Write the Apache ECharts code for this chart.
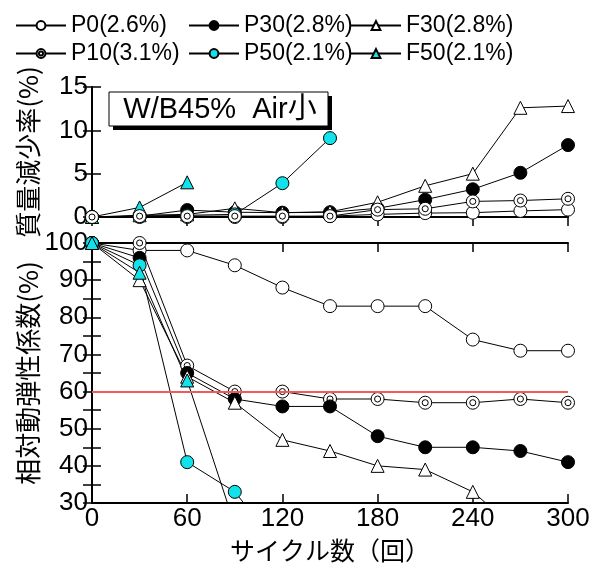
<!DOCTYPE html>
<html>
<head>
<meta charset="utf-8">
<script src="https://cdn.jsdelivr.net/npm/echarts@6/dist/echarts.min.js"></script>
<style>
  html, body { margin: 0; padding: 0; background: #fff; }
  #chart { width: 596px; height: 563px; }
</style>
</head>
<body>
<div id="chart"></div>
<script>
// サイクル数
var cycles = [0, 30, 60, 90, 120, 150, 180, 210, 240, 270, 300];

var names = ['P0(2.6%)', 'P10(3.1%)', 'P30(2.8%)', 'F30(2.8%)', 'P50(2.1%)', 'F50(2.1%)'];

// 質量減少率(%)
var massP0  = [0, 0, 0, 0, 0, 0.1, 0.3, 0.45, 0.5, 0.7, 0.85];
var massP10 = [0, 0.1, 0.1, 0.1, 0.1, 0.1, 0.85, 0.95, 1.8, 1.9, 2.1];
var massP30 = [0, 0.1, 0.8, 0.55, 0.5, 0.55, 1.0, 2.0, 3.2, 5.1, 8.3];
var massF30 = [0, 0.2, 0.3, 1.0, 0.5, 0.6, 1.7, 3.6, 5.0, 12.6, 12.8];
var massP50 = [0, 0.1, 0.2, 0.3, 3.9, 9.1];
var massF50 = [0, 1.1, 4.0];

// 相対動弾性係数(%)
var edP0  = [100, 98, 98, 94, 88, 83, 83, 83, 74, 71, 71];
var edP10 = [100, 100, 67, 60, 60, 58, 58, 57, 57, 58, 57];
var edP30 = [100, 96, 65, 58, 56, 56, 48, 45, 45, 44, 41];
var edF30 = [100, 90, 64, 57, 47, 44, 40, 39, 33, 22];
var edP50 = [100, 94, 41, 33, 17];
var edF50 = [100, 92, 63, 24];

var numFont = "'Liberation Sans', sans-serif";
var cjkFont = "'Noto Sans CJK JP', sans-serif";
var cyan = '#12e2ea';

// 二重丸
var ringPath = 'path://M0,-6A6,6 0 1,1 0,6A6,6 0 1,1 0,-6ZM0,-2.8A2.8,2.8 0 1,1 0,2.8A2.8,2.8 0 1,1 0,-2.8Z';

var styles = [
    { symbol: 'circle', fill: '#fff' },
    { symbol: ringPath, fill: '#fff' },
    { symbol: 'circle', fill: '#000' },
    { symbol: 'triangle', fill: '#fff' },
    { symbol: 'circle', fill: cyan },
    { symbol: 'triangle', fill: cyan }
];

function pairs(vals) {
    return vals.map(function (v, i) { return [cycles[i], v]; });
}

function makeSeries(name, st, vals, idx) {
    return {
        name: name,
        type: 'line',
        xAxisIndex: idx,
        yAxisIndex: idx,
        data: pairs(vals),
        symbol: st.symbol,
        symbolSize: 13,
        lineStyle: { color: '#000', width: 1 },
        itemStyle: { color: st.fill, borderColor: '#000', borderWidth: 1 },
        clip: true,
        animation: false
    };
}

var massData = [massP0, massP10, massP30, massF30, massP50, massF50];
var edData = [edP0, edP10, edP30, edF30, edP50, edF50];

var series = [];
// 下段
for (var j = 0; j < names.length; j++) {
    series.push(makeSeries(names[j], styles[j], edData[j], 1));
}
// 上段（二重丸を最後に描いて手前に）
var topOrder = [0, 2, 3, 4, 5, 1];
for (var i = 0; i < topOrder.length; i++) {
    var n = topOrder[i];
    series.push(makeSeries(names[n], styles[n], massData[n], 0));
}
// 60%ライン
series[0].markLine = {
    silent: true,
    symbol: 'none',
    label: { show: false },
    lineStyle: { color: '#f05a5a', width: 2, type: 'solid' },
    data: [{ yAxis: 60 }]
};

var axisLine = { show: true, lineStyle: { color: '#000', width: 2 } };
var axisTick = { show: true, inside: true, length: 9, lineStyle: { color: '#000', width: 1.5 } };

function xAx(grid, pos, labels) {
    return {
        type: 'value', gridIndex: grid, position: pos,
        min: 0, max: 300, interval: 60,
        axisLine: axisLine, axisTick: axisTick, splitLine: { show: false },
        axisLabel: { show: labels, color: '#000', fontSize: 26, fontFamily: numFont, margin: 3 },
        name: labels ? 'サイクル数（回）' : '',
        nameLocation: 'middle', nameGap: 35, nameMoveOverlap: false,
        nameTextStyle: { color: '#000', fontSize: 25, fontFamily: cjkFont }
    };
}

function yAx(grid, pos, min, max, interval, every, name) {
    return {
        type: 'value', gridIndex: grid, position: pos,
        min: min, max: max, interval: interval,
        axisLine: axisLine, axisTick: axisTick, splitLine: { show: false },
        axisLabel: {
            show: pos === 'left', color: '#000', fontSize: 26, fontFamily: numFont, margin: 4,
            formatter: function (v) { return v % every === 0 ? v : ''; }
        },
        name: pos === 'left' ? name : '',
        nameLocation: 'middle', nameGap: 51, nameRotate: 90, nameMoveOverlap: false,
        nameTextStyle: { color: '#000', fontSize: 26, fontFamily: cjkFont }
    };
}

var legends = [];
var legendPos = [[15, 14], [188, 14], [350, 14], [15, 42], [188, 42], [350, 42]];
var legendOrder = [0, 2, 3, 1, 4, 5];
for (var k = 0; k < legendOrder.length; k++) {
    legends.push({
        data: [names[legendOrder[k]]],
        left: legendPos[k][0], top: legendPos[k][1],
        itemWidth: 50, itemHeight: 11, padding: 0,
        selectedMode: false,
        textStyle: { color: '#000', fontSize: 23, fontFamily: numFont }
    });
}

var chart = echarts.init(document.getElementById('chart'));
chart.setOption({
    animation: false,
    backgroundColor: '#fff',
    legend: legends,
    grid: [
        { left: 92, right: 28, top: 87, height: 130, outerBoundsMode: 'none', containLabel: false },
        { left: 92, right: 28, top: 243, height: 260, outerBoundsMode: 'none', containLabel: false }
    ],
    xAxis: [xAx(0, 'bottom', false), xAx(1, 'bottom', true), xAx(0, 'top', false), xAx(1, 'top', false)],
    yAxis: [
        yAx(0, 'left', 0, 15, 5, 5, '質量減少率(%)'),
        yAx(1, 'left', 30, 100, 5, 10, '相対動弾性係数(%)'),
        yAx(0, 'right', 0, 15, 5, 5, ''),
        yAx(1, 'right', 30, 100, 5, 10, '')
    ],
    graphic: [
        { type: 'rect', shape: { x: 113, y: 96, width: 219, height: 34 }, style: { fill: '#000' }, z: 10 },
        { type: 'rect', shape: { x: 109, y: 92, width: 219, height: 34 }, style: { fill: '#fff', stroke: '#000', lineWidth: 1 }, z: 11 },
        {
            type: 'text', x: 220, y: 110, z: 12,
            style: { text: 'W/B45%  Air小', fill: '#000', font: "29px 'Liberation Sans', 'Noto Sans CJK JP'", align: 'center', verticalAlign: 'middle' }
        }
    ],
    series: series
});
</script>
</body>
</html>
